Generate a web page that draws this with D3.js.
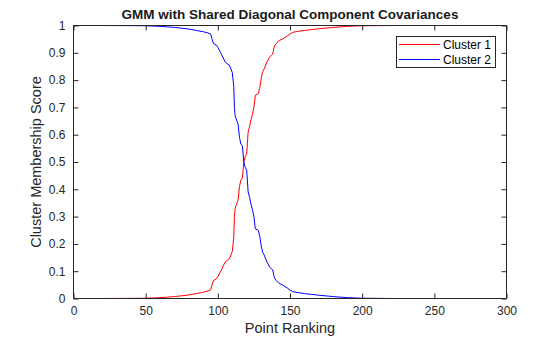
<!DOCTYPE html>
<html><head><meta charset="utf-8">
<script src="https://cdn.jsdelivr.net/npm/d3@7"></script>
<style>
html,body{margin:0;padding:0;background:#fff;}
svg{display:block;font-family:"Liberation Sans",Arial,Helvetica,sans-serif;}
</style></head>
<body><svg id="chart" width="560" height="337"></svg>
<script>
const titleText = "GMM with Shared Diagonal Component Covariances";
const xLabel = "Point Ranking";
const yLabel = "Cluster Membership Score";
const seriesNames = ["Cluster 1", "Cluster 2"];
const xTicks = [0, 50, 100, 150, 200, 250, 300];
const yTicks = [0, 0.1, 0.2, 0.3, 0.4, 0.5, 0.6, 0.7, 0.8, 0.9, 1];
const ranks = [1,20,40,50,60,65,70,75,80,85,90,93,95,96,97,99,100,102,105,107,108,110,111,111.5,112,113,114,115,116,117,118,119,120,121,122,123,124,125,126,128,129,130,131,132,134,136,137,138,139,140,142,143,145,148,150,152,155,160,165,170,180,190,200,220,250,300];
const cluster1 = [0,0,0.0005,0.001,0.003,0.005,0.007,0.01,0.013,0.018,0.023,0.027,0.031,0.05,0.066,0.072,0.08,0.1,0.133,0.142,0.145,0.172,0.22,0.30,0.33,0.347,0.36,0.41,0.435,0.44,0.50,0.52,0.53,0.61,0.63,0.655,0.675,0.70,0.745,0.75,0.77,0.805,0.83,0.84,0.866,0.886,0.89,0.895,0.92,0.932,0.942,0.946,0.951,0.961,0.969,0.975,0.978,0.982,0.985,0.988,0.993,0.997,0.999,1,1,1];
const cluster2 = [1,1,0.9995,0.999,0.997,0.995,0.993,0.99,0.987,0.982,0.977,0.973,0.969,0.95,0.934,0.928,0.92,0.9,0.867,0.858,0.855,0.828,0.78,0.70,0.67,0.653,0.64,0.59,0.565,0.56,0.50,0.48,0.47,0.39,0.37,0.345,0.325,0.30,0.255,0.25,0.23,0.195,0.17,0.16,0.134,0.114,0.11,0.105,0.08,0.068,0.058,0.054,0.049,0.039,0.031,0.025,0.022,0.018,0.015,0.012,0.007,0.003,0.001,0,0,0];
const colors = ["#ff0000", "#0000ff"];

const svg = d3.select("#chart");
const L = 73.5, R = 506.5, T = 25.5, B = 298.5;
const x = d3.scaleLinear().domain([0, 300]).range([L, R]);
const y = d3.scaleLinear().domain([0, 1]).range([B, T]);
const axisColor = "#262626";

// plot series
const line = d3.line().x(d => x(d[0])).y(d => y(d[1]));
[cluster1, cluster2].forEach((s, i) => {
  svg.append("path")
    .datum(ranks.map((r, k) => [r, s[k]]))
    .attr("d", line)
    .attr("fill", "none")
    .attr("stroke", colors[i])
    .attr("stroke-width", 1);
});

// axes
const tl = 5;
const gx = svg.append("g").attr("transform", `translate(0,${B})`)
  .call(d3.axisBottom(x).tickValues(xTicks).tickSize(-tl).tickPadding(8).tickFormat(d3.format("d")));
const gxTop = svg.append("g").attr("transform", `translate(0,${T})`)
  .call(d3.axisTop(x).tickValues(xTicks).tickSize(-tl).tickFormat(""));
const gy = svg.append("g").attr("transform", `translate(${L},0)`)
  .call(d3.axisLeft(y).tickValues(yTicks).tickSize(-tl).tickPadding(8).tickFormat(d => d === 0 || d === 1 ? d3.format("d")(d) : d3.format(".1f")(d)));
const gyR = svg.append("g").attr("transform", `translate(${R},0)`)
  .call(d3.axisRight(y).tickValues(yTicks).tickSize(-tl).tickFormat(""));
[gx, gxTop, gy, gyR].forEach(g => {
  g.selectAll(".domain").attr("stroke", axisColor).attr("stroke-width", 1);
  g.selectAll(".tick line").attr("stroke", axisColor);
  g.selectAll(".tick text").attr("fill", axisColor).style("font-size", "12px")
    .style("font-family", "'Liberation Sans', Arial, sans-serif");
});
gx.selectAll(".domain").attr("d", `M${L},0H${R}`);
gxTop.selectAll(".domain").attr("d", `M${L},0H${R}`);
gy.selectAll(".domain").attr("d", `M0,${B}V${T}`);
gyR.selectAll(".domain").attr("d", `M0,${B}V${T}`);

// title and labels
svg.append("text").attr("x", (L + R) / 2).attr("y", 19)
  .attr("text-anchor", "middle").style("font-weight", "bold").style("font-size", "13.5px")
  .attr("fill", "#1a1a1a").text(titleText);
svg.append("text").attr("x", (L + R) / 2).attr("y", 333)
  .attr("text-anchor", "middle").style("font-size", "14.5px").attr("fill", axisColor).text(xLabel);
svg.append("text").attr("transform", `translate(41,${(T + B) / 2}) rotate(-90)`)
  .attr("text-anchor", "middle").style("font-size", "14.5px").attr("fill", axisColor).text(yLabel);

// legend
const lg = svg.append("g");
lg.append("rect").attr("x", 396.5).attr("y", 36.5).attr("width", 99).attr("height", 31)
  .attr("fill", "#fff").attr("stroke", axisColor).attr("stroke-width", 1);
seriesNames.forEach((n, i) => {
  const yy = 44.5 + i * 15;
  lg.append("line").attr("x1", 399).attr("x2", 440).attr("y1", yy).attr("y2", yy)
    .attr("stroke", colors[i]).attr("stroke-width", 1);
  lg.append("text").attr("x", 443).attr("y", yy + 4.5).style("font-size", "12px")
    .attr("fill", "#000").text(n);
});
</script></body></html>
